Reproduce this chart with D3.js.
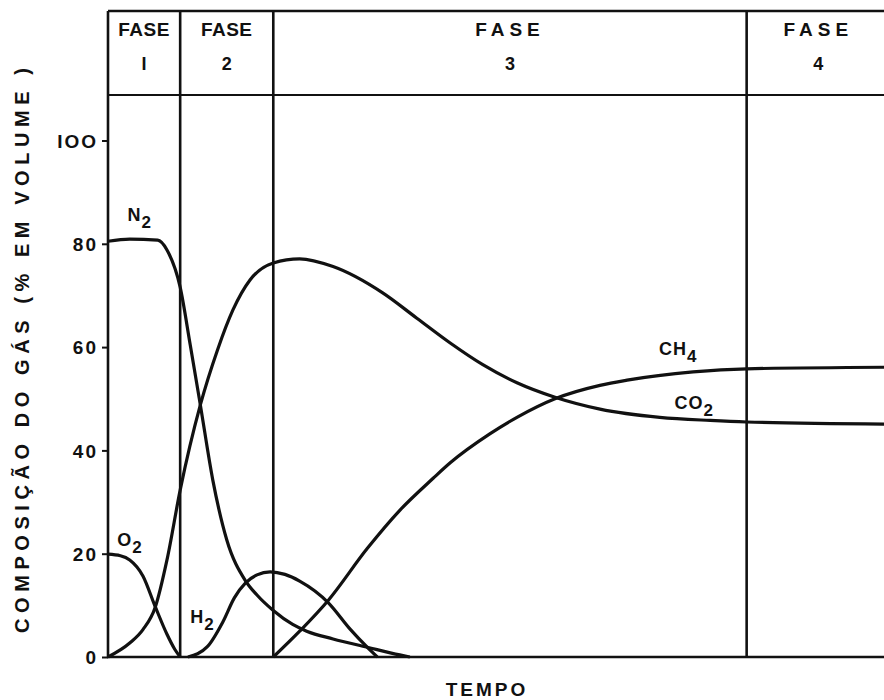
<!DOCTYPE html>
<html>
<head>
<meta charset="utf-8">
<script src="https://cdn.jsdelivr.net/npm/d3@7/dist/d3.min.js"></script>
<style>
  body { margin: 0; background: #fff; }
  svg { display: block; font-family: "Liberation Sans", Arial, sans-serif; }
  .lbl { font-weight: bold; fill: #111; }
</style>
</head>
<body>
<div id="chart"></div>
<script>
// time runs 0..100 (arbitrary units), composition in % volume
const phaseNames = ["1", "2", "3", "4"];
const phaseBounds = [0, 9.3, 21.3, 82.3, 100];
const yTicks = [0, 20, 40, 60, 80, 100];

const n2Time = [0, 2.8, 6.4, 7.6, 9.3, 10.6, 11.9, 13.5, 15.3, 17.7, 19.2, 21.3, 23.8, 25.6, 29.0, 33.4, 37.6, 38.9];
const n2Vals = [80.5, 80.9, 80.7, 78.8, 71.6, 60.4, 48.8, 34.3, 22.7, 14.8, 12.0, 9.0, 6.3, 5.0, 3.5, 1.9, 0.4, 0];

const o2Time = [0, 1.6, 2.8, 4.5, 6.1, 7.6, 8.6, 9.3];
const o2Vals = [19.9, 19.6, 18.8, 15.7, 9.7, 4.4, 1.5, 0];

const co2Time = [0, 2.8, 4.5, 6.1, 7.6, 9.3, 11.9, 14.1, 16.1, 18.3, 21.3, 24.7, 29.0, 35.4, 39.8, 44.1, 48.3, 52.7, 57.6, 63.4, 71.1, 77.6, 82.3, 100];
const co2Vals = [0, 2.7, 5.3, 9.7, 18.8, 32.3, 48.8, 59.4, 67.2, 73.0, 76.3, 77.1, 75.6, 70.5, 65.6, 60.8, 56.6, 53.1, 50.3, 48.0, 46.4, 45.8, 45.5, 45.1];

const h2Time = [10.3, 12.8, 14.8, 16.3, 17.7, 19.2, 20.9, 22.8, 24.7, 28.4, 31.2, 33.4, 34.7];
const h2Vals = [0, 2.0, 6.8, 11.5, 14.3, 15.9, 16.5, 16.0, 14.7, 10.5, 5.4, 1.9, 0];

const ch4Time = [21.3, 24.7, 28.4, 33.4, 37.6, 41.9, 44.1, 49.2, 52.7, 57.6, 63.4, 66.9, 75.4, 82.3, 100];
const ch4Vals = [0, 5.0, 11.0, 21.0, 28.4, 34.6, 37.6, 43.2, 46.4, 50.0, 52.6, 53.6, 55.2, 55.8, 56.1];

const series = [
  { name: "N", sub: "2", t: n2Time, v: n2Vals, at: [2.5, 84.5] },
  { name: "O", sub: "2", t: o2Time, v: o2Vals, at: [1.2, 21.5] },
  { name: "CO", sub: "2", t: co2Time, v: co2Vals, at: [73.0, 48.0] },
  { name: "H", sub: "2", t: h2Time, v: h2Vals, at: [10.6, 6.5] },
  { name: "CH", sub: "4", t: ch4Time, v: ch4Vals, at: [71.0, 58.5] }
];

const width = 884, height = 700;
const plotTop = 11, headerBottom = 95;

const svg = d3.select("#chart").append("svg")
  .attr("width", width).attr("height", height);

const x = d3.scaleLinear().domain([0, 100]).range([108, 884]);
const y = d3.scaleLinear().domain([0, 100]).range([657, 140.5]);

// frame: left axis, bottom axis, top line, header line, phase separators
const frame = svg.append("g").attr("stroke", "#111").attr("stroke-width", 2.6).attr("fill", "none");
frame.append("line").attr("x1", x(0)).attr("x2", x(0)).attr("y1", plotTop).attr("y2", y(0));
frame.append("line").attr("x1", x(0) - 1).attr("x2", x(100)).attr("y1", y(0)).attr("y2", y(0));
frame.append("line").attr("x1", x(0)).attr("x2", x(100)).attr("y1", plotTop).attr("y2", plotTop);
frame.append("line").attr("x1", x(0)).attr("x2", x(100)).attr("y1", headerBottom).attr("y2", headerBottom)
  .attr("stroke-width", 2);
frame.selectAll("line.sep")
  .data(phaseBounds.slice(1, -1))
  .join("line").attr("class", "sep")
  .attr("x1", d => x(d)).attr("x2", d => x(d))
  .attr("y1", plotTop).attr("y2", y(0));

// phase headers
const ph = svg.append("g").attr("class", "lbl").attr("text-anchor", "middle");
phaseNames.forEach((p, i) => {
  const cx = (x(phaseBounds[i]) + x(phaseBounds[i + 1])) / 2 + (i === 3 ? 3 : 0);
  const wide = i >= 2;
  ph.append("text")
    .attr("x", cx).attr("y", 36)
    .attr("font-size", 19)
    .attr("letter-spacing", wide ? 5 : 0.5)
    .text("FASE");
  ph.append("text")
    .attr("x", cx).attr("y", 70)
    .attr("font-size", 18)
    .text(p === "1" ? "I" : p);
});

// y axis ticks
const yAxis = svg.append("g")
  .attr("transform", `translate(${x(0)},0)`)
  .call(d3.axisLeft(y).tickValues(yTicks).tickSize(6).tickPadding(4)
    .tickFormat(d => d === 100 ? "IOO" : d));
yAxis.select(".domain").remove();
yAxis.selectAll(".tick line").attr("stroke", "#111").attr("stroke-width", 2);
yAxis.selectAll(".tick text")
  .attr("class", "lbl")
  .attr("font-size", 19)
  .attr("letter-spacing", 2)
  .attr("dy", "0.36em");

// curves
const line = d3.line()
  .x(d => x(d[0]))
  .y(d => y(d[1]))
  .curve(d3.curveMonotoneX);

svg.append("g")
  .selectAll("path")
  .data(series)
  .join("path")
  .attr("d", s => line(d3.zip(s.t, s.v)))
  .attr("fill", "none")
  .attr("stroke", "#111")
  .attr("stroke-width", 3.2)
  .attr("stroke-linejoin", "round");

// curve labels with subscripts
const lab = svg.append("g").attr("class", "lbl");
series.forEach(s => {
  const t = lab.append("text")
    .attr("x", x(s.at[0])).attr("y", y(s.at[1]))
    .attr("font-size", 18)
    .attr("letter-spacing", 1);
  t.append("tspan").text(s.name);
  t.append("tspan").attr("dy", 7).attr("font-size", 17).text(s.sub);
});

// axis titles
svg.append("text")
  .attr("class", "lbl")
  .attr("transform", `translate(29,${(633 + 68) / 2}) rotate(-90)`)
  .attr("text-anchor", "middle")
  .attr("font-size", 20)
  .attr("textLength", 565)
  .attr("lengthAdjust", "spacing")
  .text("COMPOSIÇÃO DO GÁS (% EM VOLUME )");

svg.append("text")
  .attr("class", "lbl")
  .attr("x", 487).attr("y", 696)
  .attr("text-anchor", "middle")
  .attr("font-size", 19)
  .attr("letter-spacing", 3)
  .text("TEMPO");
</script>
</body>
</html>
